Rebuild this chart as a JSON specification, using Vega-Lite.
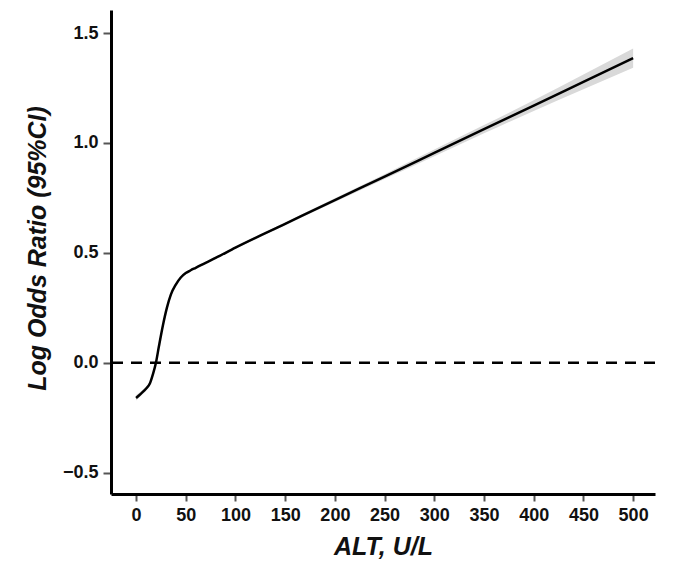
{
  "$schema": "https://vega.github.io/schema/vega-lite/v6.json",
  "width": 544,
  "height": 484,
  "autosize": {"type": "none"},
  "padding": {"left": 111, "top": 10, "right": 21, "bottom": 72},
  "background": "white",
  "config": {
    "view": {"stroke": null},
    "font": "Liberation Sans"
  },
  "datasets": {
    "curve": [
      {"alt": 0, "lor": -0.16, "lo": -0.172, "hi": -0.148},
      {"alt": 5, "lor": -0.14, "lo": -0.15, "hi": -0.13},
      {"alt": 10, "lor": -0.118, "lo": -0.127, "hi": -0.109},
      {"alt": 14, "lor": -0.093, "lo": -0.101, "hi": -0.085},
      {"alt": 17, "lor": -0.052, "lo": -0.059, "hi": -0.045},
      {"alt": 20, "lor": 0.0, "lo": -0.006, "hi": 0.006},
      {"alt": 23, "lor": 0.075, "lo": 0.069, "hi": 0.081},
      {"alt": 27, "lor": 0.17, "lo": 0.165, "hi": 0.175},
      {"alt": 31, "lor": 0.25, "lo": 0.245, "hi": 0.255},
      {"alt": 35, "lor": 0.31, "lo": 0.305, "hi": 0.315},
      {"alt": 40, "lor": 0.356, "lo": 0.351, "hi": 0.361},
      {"alt": 45, "lor": 0.388, "lo": 0.383, "hi": 0.393},
      {"alt": 50, "lor": 0.408, "lo": 0.403, "hi": 0.413},
      {"alt": 55, "lor": 0.421, "lo": 0.416, "hi": 0.426},
      {"alt": 60, "lor": 0.432, "lo": 0.427, "hi": 0.437},
      {"alt": 70, "lor": 0.455, "lo": 0.45, "hi": 0.46},
      {"alt": 80, "lor": 0.477, "lo": 0.472, "hi": 0.482},
      {"alt": 100, "lor": 0.524, "lo": 0.519, "hi": 0.529},
      {"alt": 150, "lor": 0.632, "lo": 0.626, "hi": 0.638},
      {"alt": 200, "lor": 0.74, "lo": 0.732, "hi": 0.748},
      {"alt": 250, "lor": 0.847, "lo": 0.836, "hi": 0.858},
      {"alt": 300, "lor": 0.955, "lo": 0.94, "hi": 0.97},
      {"alt": 350, "lor": 1.063, "lo": 1.044, "hi": 1.082},
      {"alt": 400, "lor": 1.17, "lo": 1.146, "hi": 1.194},
      {"alt": 450, "lor": 1.278, "lo": 1.244, "hi": 1.312},
      {"alt": 500, "lor": 1.386, "lo": 1.342, "hi": 1.43}
    ],
    "ref": [{"y": 0}]
  },
  "layer": [
    {
      "data": {"name": "curve"},
      "mark": {"type": "area", "color": "#d9d9d9", "opacity": 1, "interpolate": "monotone"},
      "encoding": {
        "x": {
          "field": "alt", "type": "quantitative",
          "scale": {"domain": [-25.2, 522], "nice": false, "zero": false},
          "axis": {
            "title": "ALT, U/L",
            "values": [0, 50, 100, 150, 200, 250, 300, 350, 400, 450, 500],
            "grid": false,
            "domainColor": "black", "domainWidth": 3,
            "tickColor": "#555555", "tickWidth": 2, "tickSize": 7,
            "labelFont": "Liberation Sans", "labelFontSize": 18, "labelFontWeight": "bold", "labelColor": "#111111",
            "labelPadding": 5,
            "titleFont": "Liberation Sans", "titleFontSize": 25, "titleFontWeight": "bold", "titleFontStyle": "italic", "titleColor": "#111111",
            "titleBaseline": "middle", "titleY": 52
          }
        },
        "y": {
          "field": "lo", "type": "quantitative",
          "scale": {"domain": [-0.597, 1.605], "nice": false, "zero": false},
          "axis": {
            "title": "Log Odds Ratio (95%CI)",
            "values": [-0.5, 0, 0.5, 1, 1.5],
            "format": ".1f",
            "grid": false,
            "domainColor": "black", "domainWidth": 3,
            "tickColor": "#555555", "tickWidth": 2, "tickSize": 8,
            "labelFont": "Liberation Sans", "labelFontSize": 18, "labelFontWeight": "bold", "labelColor": "#111111",
            "labelPadding": 5,
            "titleFont": "Liberation Sans", "titleFontSize": 25, "titleFontWeight": "bold", "titleFontStyle": "italic", "titleColor": "#111111",
            "titleBaseline": "middle", "titleX": -74, "titleY": 238
          }
        },
        "y2": {"field": "hi"}
      }
    },
    {
      "data": {"name": "ref"},
      "mark": {"type": "rule", "color": "black", "strokeWidth": 2.5, "strokeDash": [11, 8]},
      "encoding": {"y": {"field": "y", "type": "quantitative"}}
    },
    {
      "data": {"name": "curve"},
      "mark": {"type": "line", "color": "black", "strokeWidth": 2.5, "interpolate": "monotone"},
      "encoding": {
        "x": {"field": "alt", "type": "quantitative"},
        "y": {"field": "lor", "type": "quantitative"}
      }
    }
  ]
}
